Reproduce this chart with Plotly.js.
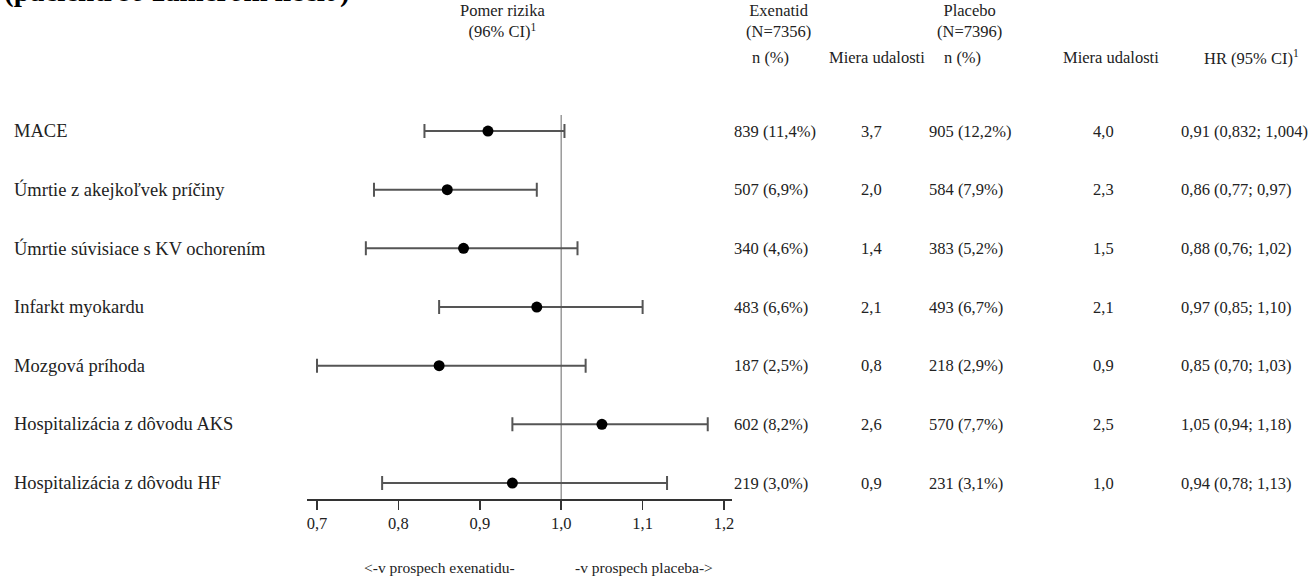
<!DOCTYPE html>
<html><head><meta charset="utf-8">
<script src="https://cdn.plot.ly/plotly-3.0.1.min.js"></script>
<style>html,body{margin:0;padding:0;background:#fff}#chart{width:1314px;height:577px}</style>
</head><body><div id="chart"></div>
<script>
const outcomes = ['MACE','Úmrtie z akejkoľvek príčiny','Úmrtie súvisiace s KV ochorením','Infarkt myokardu','Mozgová príhoda','Hospitalizácia z dôvodu AKS','Hospitalizácia z dôvodu HF'];
const hr = [0.91, 0.86, 0.88, 0.97, 0.85, 1.05, 0.94];
const ciLow = [0.832, 0.77, 0.76, 0.85, 0.70, 0.94, 0.78];
const ciHigh = [1.004, 0.97, 1.02, 1.10, 1.03, 1.18, 1.13];
const exeN = ['839 (11,4%)','507 (6,9%)','340 (4,6%)','483 (6,6%)','187 (2,5%)','602 (8,2%)','219 (3,0%)'];
const exeRate = ['3,7','2,0','1,4','2,1','0,8','2,6','0,9'];
const plaN = ['905 (12,2%)','584 (7,9%)','383 (5,2%)','493 (6,7%)','218 (2,9%)','570 (7,7%)','231 (3,1%)'];
const plaRate = ['4,0','2,3','1,5','2,1','0,9','2,5','1,0'];
const hrText = ['0,91 (0,832; 1,004)','0,86 (0,77; 0,97)','0,88 (0,76; 1,02)','0,97 (0,85; 1,10)','0,85 (0,70; 1,03)','1,05 (0,94; 1,18)','0,94 (0,78; 1,13)'];
const xTicks = [0.7, 0.8, 0.9, 1.0, 1.1, 1.2];
const xTickLabels = ['0,7','0,8','0,9','1,0','1,1','1,2'];
const titleText = '(pacienti so zámerom liečiť)';
const colHeaders = ['n (%)','Miera udalosti','n (%)','Miera udalosti','HR (95% CI)<sup>1</sup>'];
const groupHeaders = ['Exenatid<br>(N=7356)','Placebo<br>(N=7396)'];
const plotHeader = 'Pomer rizika<br>(96% CI)<sup>1</sup>';
const favourLeft = '&lt;-v prospech exenatidu-';
const favourRight = '-v prospech placeba-&gt;';

const W = 1314, H = 577;
const FONT = 'Liberation Serif, Times New Roman, serif';
const TXT = '#222';
const idx = outcomes.map((_, i) => i);
const px = v => v / W;
const py = v => 1 - v / H;

const trace = {
  type: 'scatter', mode: 'markers',
  x: hr, y: idx,
  marker: {color: '#000', size: 11},
  error_x: {type: 'data', symmetric: false,
    array: hr.map((v, i) => ciHigh[i] - v),
    arrayminus: hr.map((v, i) => v - ciLow[i]),
    color: '#555', thickness: 2, width: 7},
  hoverinfo: 'skip', showlegend: false
};

const ann = [];
const f = (size, extra) => Object.assign({family: FONT, size: size, color: TXT}, extra || {});
idx.forEach(i => {
  ann.push({xref: 'paper', yref: 'y', x: px(12), y: i, xanchor: 'left', yanchor: 'middle', text: outcomes[i], showarrow: false, font: f(18.5)});
  ann.push({xref: 'paper', yref: 'y', x: px(732), y: i, xanchor: 'left', yanchor: 'middle', text: exeN[i], showarrow: false, font: f(16.5)});
  ann.push({xref: 'paper', yref: 'y', x: px(871), y: i, xanchor: 'center', yanchor: 'middle', text: exeRate[i], showarrow: false, font: f(16.5)});
  ann.push({xref: 'paper', yref: 'y', x: px(927), y: i, xanchor: 'left', yanchor: 'middle', text: plaN[i], showarrow: false, font: f(16.5)});
  ann.push({xref: 'paper', yref: 'y', x: px(1103), y: i, xanchor: 'center', yanchor: 'middle', text: plaRate[i], showarrow: false, font: f(16.5)});
  ann.push({xref: 'paper', yref: 'y', x: px(1179), y: i, xanchor: 'left', yanchor: 'middle', text: hrText[i], showarrow: false, font: f(16.5)});
});
const hdrX = [770, 877, 962, 1111, 1251];
colHeaders.forEach((t, k) => ann.push({xref: 'paper', yref: 'paper', x: px(hdrX[k]), y: py(57), xanchor: 'center', yanchor: 'middle', text: t, showarrow: false, font: f(16.5)}));
const grpX = [778, 969];
groupHeaders.forEach((t, k) => ann.push({xref: 'paper', yref: 'paper', x: px(grpX[k]), y: py(21), xanchor: 'center', yanchor: 'middle', text: t, showarrow: false, font: f(16.5)}));
ann.push({xref: 'paper', yref: 'paper', x: px(502), y: py(21), xanchor: 'center', yanchor: 'middle', text: plotHeader, showarrow: false, font: f(16.5)});
ann.push({xref: 'paper', yref: 'paper', x: px(439), y: py(567), xanchor: 'center', yanchor: 'middle', text: favourLeft, showarrow: false, font: f(15.5)});
ann.push({xref: 'paper', yref: 'paper', x: px(644), y: py(567), xanchor: 'center', yanchor: 'middle', text: favourRight, showarrow: false, font: f(15.5)});
ann.push({xref: 'paper', yref: 'paper', x: px(2), y: py(10), xanchor: 'left', yanchor: 'bottom', text: '<b>' + titleText + '</b>', showarrow: false, font: f(29, {color: '#000'})});

const layout = {
  width: W, height: H,
  margin: {l: 0, r: 0, t: 0, b: 0},
  paper_bgcolor: '#fff', plot_bgcolor: '#fff',
  separators: ', ',
  xaxis: {domain: [px(307), px(732)], range: [0.6877, 1.2098], showgrid: false, zeroline: false,
    showline: true, linecolor: '#333', linewidth: 1.5,
    ticks: 'outside', ticklen: 9, tickwidth: 1.5, tickcolor: '#333',
    tickvals: xTicks, ticktext: xTickLabels, tickfont: f(16.5), fixedrange: true},
  yaxis: {domain: [py(499), py(115)], range: [6.272, -0.273], showgrid: false, zeroline: false,
    showline: false, showticklabels: false, ticks: '', fixedrange: true},
  shapes: [{type: 'line', xref: 'x', yref: 'y', x0: 1, x1: 1, y0: -0.273, y1: 6.272, line: {color: '#9a9a9a', width: 1.5}, layer: 'below'}],
  annotations: ann,
  showlegend: false
};
Plotly.newPlot('chart', [trace], layout, {staticPlot: true, displayModeBar: false});
</script></body></html>
